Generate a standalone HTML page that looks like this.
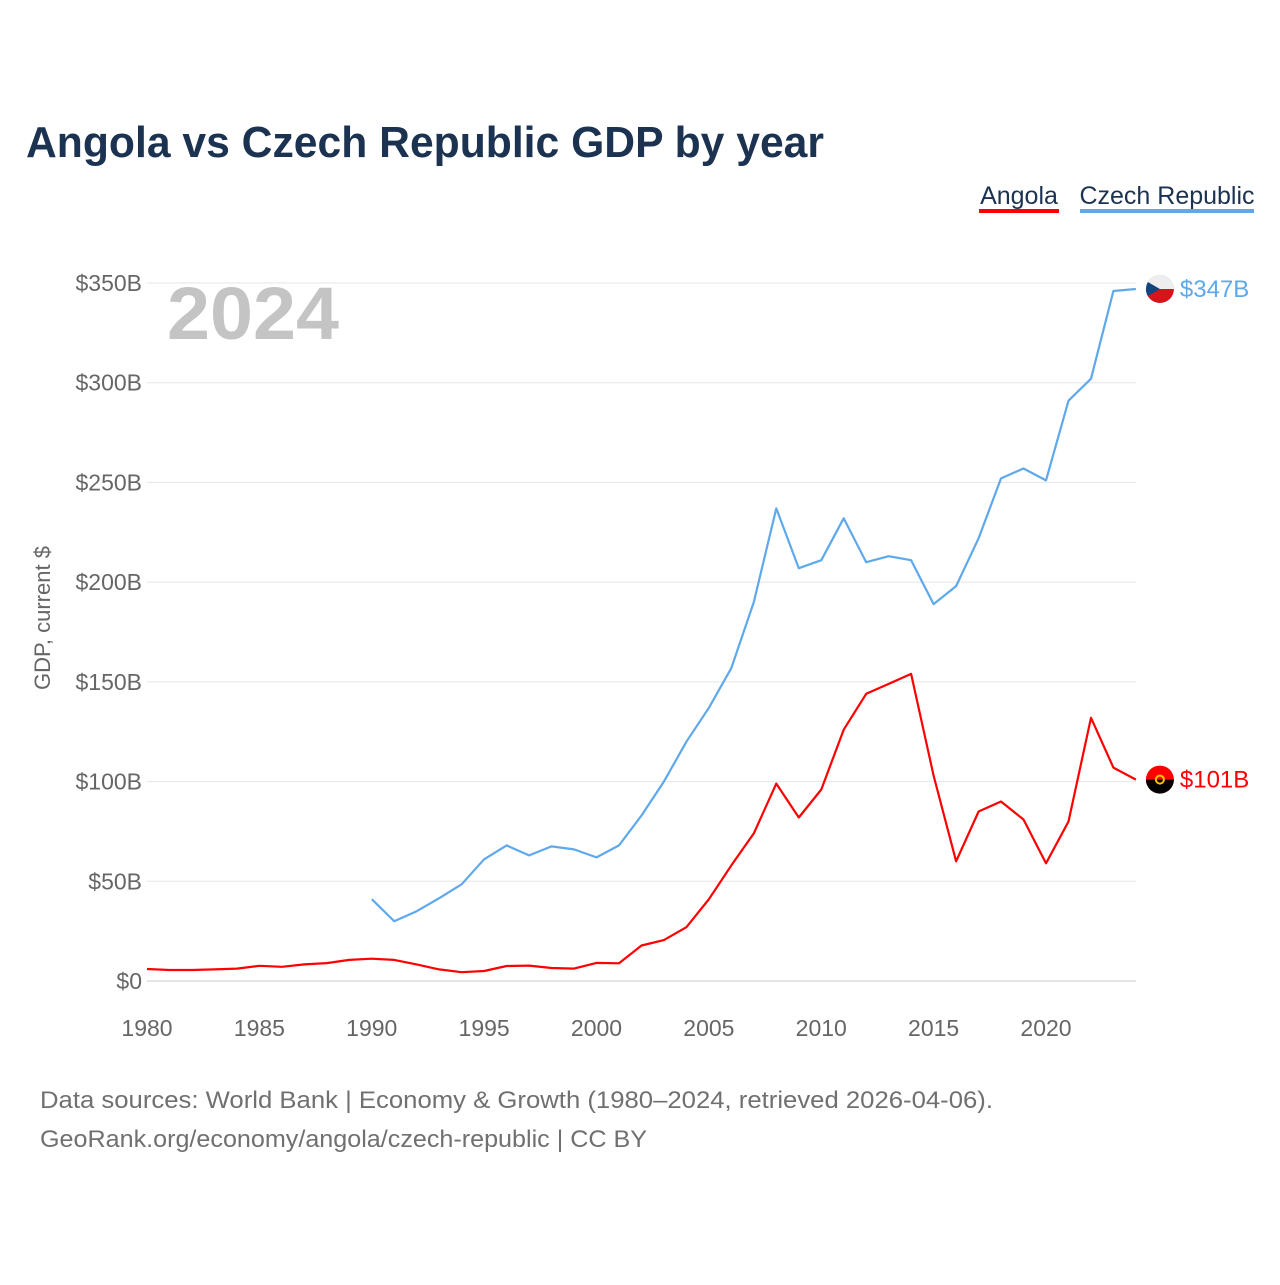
<!DOCTYPE html>
<html><head><meta charset="utf-8">
<style>
html,body{margin:0;padding:0;background:#fff;}
body{width:1280px;height:1280px;overflow:hidden;font-family:"Liberation Sans",sans-serif;}
</style></head>
<body>
<svg id="chart" width="1280" height="1280" xmlns="http://www.w3.org/2000/svg" font-family="Liberation Sans, sans-serif">
<text x="26" y="157" font-size="44" font-weight="bold" fill="#1b3250" textLength="798" lengthAdjust="spacingAndGlyphs">Angola vs Czech Republic GDP by year</text>
<g>
<text x="1019" y="204" font-size="25" fill="#1b3250" text-anchor="middle">Angola</text>
<rect x="979" y="209" width="80" height="4" fill="#ff0000"/>
</g>
<g>
<text x="1167" y="204" font-size="25" fill="#1b3250" text-anchor="middle">Czech Republic</text>
<rect x="1080" y="209" width="174" height="4" fill="#5ea8ec"/>
</g>
<text x="167" y="339" font-size="74" font-weight="bold" fill="#c4c4c4" textLength="172" lengthAdjust="spacingAndGlyphs">2024</text>
<text transform="translate(50,618) rotate(-90)" font-size="22" fill="#666" text-anchor="middle">GDP, current $</text>
<g id="grid"></g><g id="yticks"></g><g id="xticks"></g><g id="series"></g>
<text x="40" y="1108" font-size="24" fill="#707070" textLength="953" lengthAdjust="spacingAndGlyphs">Data sources: World Bank | Economy &amp; Growth (1980–2024, retrieved 2026-04-06).</text>
<text x="40" y="1147" font-size="24" fill="#707070" textLength="607" lengthAdjust="spacingAndGlyphs">GeoRank.org/economy/angola/czech-republic | CC BY</text>
</svg>
<script>
const angolaYears = [1980,1981,1982,1983,1984,1985,1986,1987,1988,1989,1990,1991,1992,1993,1994,1995,1996,1997,1998,1999,2000,2001,2002,2003,2004,2005,2006,2007,2008,2009,2010,2011,2012,2013,2014,2015,2016,2017,2018,2019,2020,2021,2022,2023,2024];
const angolaGdp = [6,5.5,5.5,5.8,6.2,7.6,7.1,8.3,9,10.6,11.2,10.6,8.3,5.8,4.4,5,7.5,7.7,6.5,6.2,9.1,8.9,17.8,20.5,27,41,58,74,99,82,96,126,144,149,154,103,60,85,90,81,59,80,132,107,101];
const czechYears = [1990,1991,1992,1993,1994,1995,1996,1997,1998,1999,2000,2001,2002,2003,2004,2005,2006,2007,2008,2009,2010,2011,2012,2013,2014,2015,2016,2017,2018,2019,2020,2021,2022,2023,2024];
const czechGdp = [41,30,35,41.5,48.5,61,68,63,67.5,66,62,68,83,100,120,137,157,190,237,207,211,232,210,213,211,189,198,222,252,257,251,291,302,346,347];
const yTicks = [0,50,100,150,200,250,300,350];
const yTickLabels = ["$0","$50B","$100B","$150B","$200B","$250B","$300B","$350B"];
const xTicks = [1980,1985,1990,1995,2000,2005,2010,2015,2020];

const NS="http://www.w3.org/2000/svg";
const x = yr => 147 + (yr-1980)*(1046-147)/40;
const y = v => 981 - v*(981-283)/350;
function mk(tag, attrs, parent){const e=document.createElementNS(NS,tag);for(const k in attrs)e.setAttribute(k,attrs[k]);parent.appendChild(e);return e;}
const grid=document.getElementById('grid'), yt=document.getElementById('yticks'), xt=document.getElementById('xticks'), ser=document.getElementById('series');
yTicks.forEach((v,i)=>{
  const l=mk('line',{x1:147,x2:1136,y1:y(v),y2:y(v),stroke:'#e6e6e6','stroke-width':1},grid);
  
  
  const t=mk('text',{x:142,y:y(v)+8,'font-size':23,fill:'#666','text-anchor':'end'},yt);
  t.textContent=yTickLabels[i];
  
  
});
const ax=mk('line',{x1:147,x2:1136,y1:y(0),y2:y(0),stroke:'#ccc','stroke-width':1},grid);


xTicks.forEach(v=>{
  const t=mk('text',{x:x(v),y:1036,'font-size':23,fill:'#666','text-anchor':'middle'},xt);
  t.textContent=v;
  
  
});
function line(years,vals,color,name){
  const d=years.map((yr,i)=>(i?'L':'M')+x(yr).toFixed(1)+','+y(vals[i]).toFixed(1)).join('');
  const p=mk('path',{d:d,fill:'none',stroke:color,'stroke-width':2.2,'stroke-linejoin':'round'},ser);
  
  
  const last=vals[vals.length-1], lx=x(years[years.length-1]), ly=y(last);
  const c=mk('circle',{cx:lx+24,cy:ly,r:14,fill:color},ser);
  
  
  const t=mk('text',{x:lx+44,y:ly+8,'font-size':24,fill:color},ser);
  t.textContent='$'+Math.round(last)+'B';
  
  
  return {lx:lx+24,ly:ly};
}
const a=line(angolaYears,angolaGdp,'#ff0000','angola');
const c=line(czechYears,czechGdp,'#5ea8ec','czech');
mk('path',{d:`M${a.lx-14},${a.ly} A14,14 0 0 0 ${a.lx+14},${a.ly} Z`,fill:'#000'},ser);
mk('circle',{cx:a.lx,cy:a.ly,r:4,fill:'none',stroke:'#f5c400','stroke-width':2},ser);
mk('path',{d:`M${c.lx-14},${c.ly} A14,14 0 0 1 ${c.lx+14},${c.ly} Z`,fill:'#eee'},ser);
mk('path',{d:`M${c.lx-14},${c.ly} A14,14 0 0 0 ${c.lx+14},${c.ly} Z`,fill:'#d7141a'},ser);
mk('path',{d:`M${c.lx-12},${c.ly-7} L${c.lx},${c.ly} L${c.lx-12},${c.ly+7} A14,14 0 0 1 ${c.lx-12},${c.ly-7} Z`,fill:'#11457e'},ser);
</script>
</body></html>
